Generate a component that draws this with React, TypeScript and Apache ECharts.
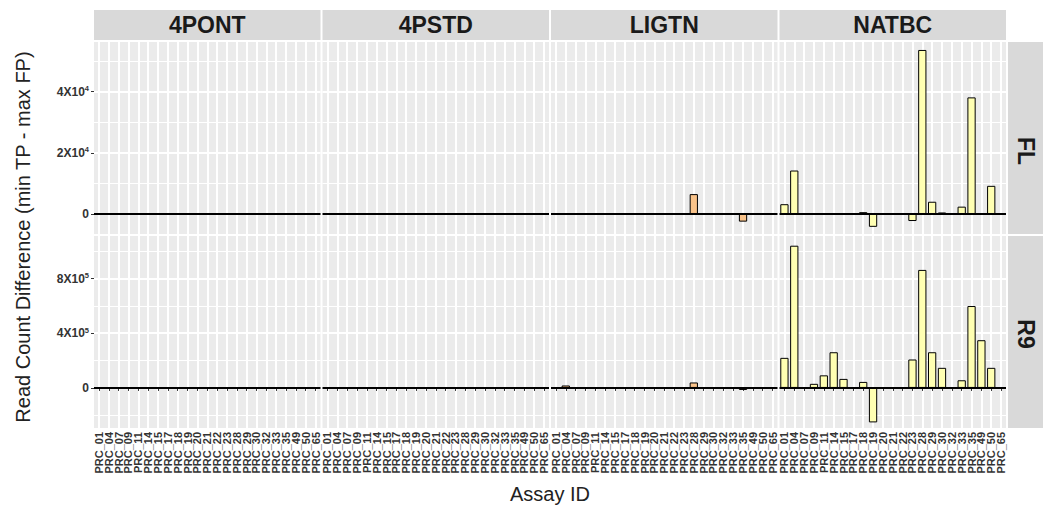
import React, { useEffect, useRef } from "react";
import * as echarts from "echarts";

const categories = ["PRC_01","PRC_04","PRC_07","PRC_09","PRC_11","PRC_14","PRC_15","PRC_17","PRC_18","PRC_19","PRC_20","PRC_21","PRC_22","PRC_23","PRC_28","PRC_29","PRC_30","PRC_32","PRC_33","PRC_35","PRC_49","PRC_50","PRC_65"];
const assays = ["4PONT", "4PSTD", "LIGTN", "NATBC"];
const rowNames = ["FL", "R9"];

// FL row values
const fl4PONT = [0,0,0,0,0,0,0,0,0,0,0,0,0,0,0,0,0,0,0,0,0,0,0];
const fl4PSTD = [0,0,0,0,0,0,0,0,0,0,0,0,0,0,0,0,0,0,0,0,0,0,0];
const flLIGTN = [0,0,0,0,0,0,0,0,0,0,0,0,0,300,6500,0,0,0,0,-2500,0,0,0];
const flNATBC = [3200,14200,0,0,0,0,0,0,600,-4200,0,0,0,-2300,53600,4000,500,0,2400,38100,0,9200,0];

// R9 row values
const r94PONT = [0,0,0,0,0,0,0,0,0,0,0,0,0,0,0,0,0,0,0,0,0,0,0];
const r94PSTD = [0,0,0,0,0,0,0,0,0,0,0,0,0,0,0,0,0,0,0,0,0,0,0];
const r9LIGTN = [0,18000,0,0,0,0,0,0,0,0,0,0,0,0,40000,0,0,0,0,-15000,0,0,0];
const r9NATBC = [220000,1040000,0,30000,92000,261000,66000,3000,44000,-252000,2000,0,0,208000,863000,261000,147000,0,56000,599000,349000,147000,0];

// axis ranges and ticks
const flRange = [-6540, 56200];
const r9Range = [-293000, 1111000];
const flMajor = [0, 20000, 40000];
const flMinor = [10000, 30000, 50000];
const r9Major = [0, 400000, 800000];
const r9Minor = [-200000, 200000, 600000, 1000000];

const assayFill = ["#F9C38A", "#F9C38A", "#F9C38A", "#FFFFB2"];

const FONT = '"Liberation Sans", Arial, Helvetica, sans-serif';

const rowData = [
  [fl4PONT, fl4PSTD, flLIGTN, flNATBC],
  [r94PONT, r94PSTD, r9LIGTN, r9NATBC],
];
const rowRange = [flRange, r9Range];
const rowMajor = [flMajor, r9Major];
const rowMinor = [flMinor, r9Minor];

const fmt = (v: number) => {
  if (v === 0) return "0";
  const e = Math.floor(Math.log10(Math.abs(v)) + 1e-9);
  const m = Math.round(v / Math.pow(10, e));
  return `${m}X10{sup|${e}}`;
};

export default function App() {
  const ref = useRef<HTMLDivElement>(null);
  useEffect(() => {
    if (!ref.current) return;
    const chart = echarts.init(ref.current, undefined, { renderer: "svg" });

    const L0 = 94, CW = 226.5, GAP = 2, T0 = 42, RH = 192, RGAP = 2;
    const grids: any[] = [];
    const xAxes: any[] = [];
    const yAxes: any[] = [];
    const series: any[] = [];
    for (let r = 0; r < 2; r++) {
      for (let c = 0; c < 4; c++) {
        const i = r * 4 + c;
        grids.push({
          left: L0 + c * (CW + GAP),
          top: T0 + r * (RH + RGAP),
          width: CW,
          height: RH,
          show: true,
          backgroundColor: "#EBEBEB",
          borderWidth: 0,
          containLabel: false,
        });
        xAxes.push({
          type: "category",
          gridIndex: i,
          data: categories,
          boundaryGap: true,
          axisLine: { show: false },
          axisTick: {
            show: r === 1,
            alignWithLabel: true,
            interval: 0,
            length: 3,
            lineStyle: { color: "#333", width: 1 },
          },
          axisLabel: {
            show: r === 1,
            rotate: 90,
            interval: 0,
            fontSize: 11,
            fontWeight: "bold",
            color: "#333",
            fontFamily: FONT,
            margin: 4,
          },
          splitLine: {
            show: true,
            interval: 0,
            alignWithLabel: true,
            lineStyle: { color: "#FFFFFF", width: 2 },
          },
        });
        yAxes.push({
          type: "value",
          gridIndex: i,
          min: rowRange[r][0],
          max: rowRange[r][1],
          axisLine: { show: false },
          splitLine: { show: false },
          axisTick: {
            show: c === 0,
            customValues: rowMajor[r],
            length: 3,
            lineStyle: { color: "#333", width: 1 },
          },
          axisLabel: {
            show: c === 0,
            customValues: rowMajor[r],
            formatter: fmt,
            fontSize: 12,
            fontWeight: "bold",
            color: "#333",
            fontFamily: FONT,
            margin: 5,
            rich: {
              sup: {
                fontSize: 7.5,
                fontWeight: "bold",
                color: "#333",
                fontFamily: FONT,
                verticalAlign: "top",
                padding: [0, 0, 6, 0],
              },
            },
          },
        });
        series.push({
          type: "line",
          xAxisIndex: i,
          yAxisIndex: i,
          data: rowData[r][c],
          symbol: "none",
          silent: true,
          lineStyle: { opacity: 0 },
          z: 1,
          markLine: {
            silent: true,
            symbol: ["none", "none"],
            z: 1,
            label: { show: false },
            data: [
              ...rowMajor[r].map((v) => ({ yAxis: v, lineStyle: { color: "#FFFFFF", width: 2, type: "solid" } })),
              ...rowMinor[r].map((v) => ({ yAxis: v, lineStyle: { color: "#FFFFFF", width: 1, type: "solid" } })),
            ],
          },
        });
        series.push({
          type: "bar",
          xAxisIndex: i,
          yAxisIndex: i,
          data: rowData[r][c],
          barCategoryGap: "16%",
          z: 2,
          itemStyle: { color: assayFill[c], borderColor: "#000", borderWidth: 1 },
          markLine: {
            silent: true,
            symbol: ["none", "none"],
            label: { show: false },
            lineStyle: { color: "#000", width: 2, type: "solid" },
            data: [{ yAxis: 0 }],
          },
        });
      }
    }

    const graphic: any[] = [];
    assays.forEach((a, c) => {
      const x = L0 + c * (CW + GAP);
      graphic.push({ type: "rect", silent: true, shape: { x, y: 10, width: CW, height: 30 }, style: { fill: "#D9D9D9" } });
      graphic.push({
        type: "text", silent: true, x: x + CW / 2, y: 25,
        style: { text: a, fill: "#1A1A1A", font: `bold 23px ${FONT}`, align: "center", verticalAlign: "middle" },
      });
    });
    const stripTextY = [151, 334];
    rowNames.forEach((n, r) => {
      const y = T0 + r * (RH + RGAP);
      graphic.push({ type: "rect", silent: true, shape: { x: 1008, y, width: 35, height: RH }, style: { fill: "#D9D9D9" } });
      graphic.push({
        type: "text", silent: true, x: 1025.5, y: stripTextY[r], rotation: -Math.PI / 2,
        style: { text: n, fill: "#1A1A1A", font: `bold 23px ${FONT}`, align: "center", verticalAlign: "middle" },
      });
    });
    graphic.push({
      type: "text", silent: true, x: 23, y: 237, rotation: Math.PI / 2,
      style: { text: "Read Count Difference (min TP - max FP)", fill: "#222", font: `20px ${FONT}`, align: "center", verticalAlign: "middle" },
    });
    graphic.push({
      type: "text", silent: true, x: 550, y: 494,
      style: { text: "Assay ID", fill: "#222", font: `20px ${FONT}`, align: "center", verticalAlign: "middle" },
    });

    chart.setOption({
      animation: false,
      backgroundColor: "#FFFFFF",
      grid: grids,
      xAxis: xAxes,
      yAxis: yAxes,
      series,
      graphic,
    });
    return () => chart.dispose();
  }, []);
  return (
    <div
      ref={ref}
      style={{ position: "absolute", left: 0, top: 0, width: 1043, height: 507, background: "#fff" }}
    />
  );
}
